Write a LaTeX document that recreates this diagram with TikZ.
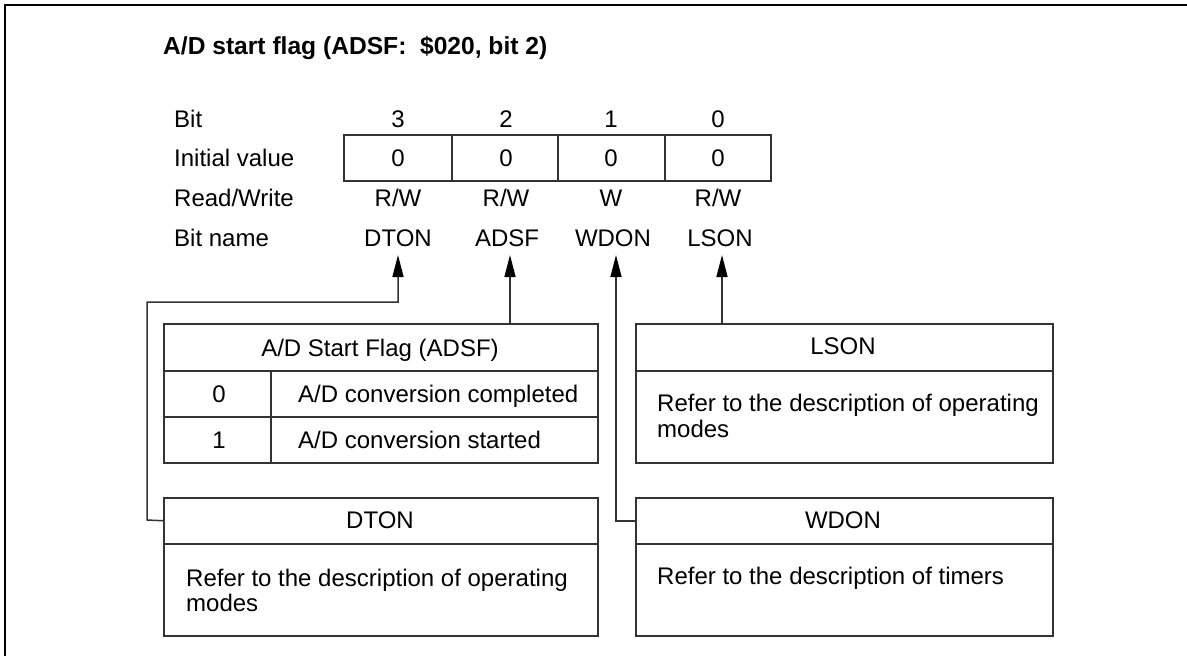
\documentclass[tikz,border=0pt]{standalone}
\usepackage{fontspec}
\setmainfont{Liberation Sans}
\usetikzlibrary{arrows.meta}
\begin{document}
\begin{tikzpicture}[x=1pt,y=-1pt,
  every node/.style={font=\fontsize{24}{25.5}\selectfont, inner sep=0pt},
  ln/.style={draw=black!80, line width=1.5pt},
  cell/.style={ln, rectangle, anchor=north west},
  lbl/.style={anchor=base west},
  ctr/.style={anchor=base},
  arr/.style={draw=black!80, line width=1.5pt, -{Triangle[length=22pt,width=11pt,fill=black,color=black]}}
]
\useasboundingbox (0,0) rectangle (1187,656);
\draw[line width=2pt] (5,656) -- (5,5) -- (1187,5);

% title
\node[lbl, font=\fontsize{24.6}{25.5}\selectfont\bfseries] (title) at (163,54) {A/D start flag (ADSF:\ \ \$020, bit 2)};

% row labels
\node[lbl] (lbit)  at (174,127) {Bit};
\node[lbl] (linit) at (174,166) {Initial value};
\node[lbl] (lrw)   at (174,206) {Read/Write};
\node[lbl] (lname) at (174,246) {Bit name};

% register cells
\node[cell, minimum width=108pt, minimum height=46pt] (c3) at (343,134) {};
\node[cell, minimum width=106pt, minimum height=46pt] (c2) at (451,134) {};
\node[cell, minimum width=107pt, minimum height=46pt] (c1) at (557,134) {};
\node[cell, minimum width=106pt, minimum height=46pt] (c0) at (664,134) {};

\node[ctr] (b3) at (398,127) {3};
\node[ctr] (b2) at (506,127) {2};
\node[ctr] (b1) at (611,127) {1};
\node[ctr] (b0) at (718,127) {0};

\node[ctr] (v3) at (398,166) {0};
\node[ctr] (v2) at (506,166) {0};
\node[ctr] (v1) at (611,166) {0};
\node[ctr] (v0) at (718,166) {0};

\node[ctr] (rw3) at (398,206) {R/W};
\node[ctr] (rw2) at (506,206) {R/W};
\node[ctr] (rw1) at (611,206) {W};
\node[ctr] (rw0) at (718,206) {R/W};

\node[ctr] (n3) at (398,246) {DTON};
\node[ctr] (n2) at (507,246) {ADSF};
\node[ctr] (n1) at (613,246) {WDON};
\node[ctr] (n0) at (720,246) {LSON};

\coordinate (tD) at (398,255);
\coordinate (tA) at (510,255);
\coordinate (tW) at (616,255);
\coordinate (tL) at (722,255);

% ADSF table
\node[cell, minimum width=434pt, minimum height=47pt] (adsfh) at (163,323) {};
\node (adsft) at (380,350) {A/D Start Flag (ADSF)};
\node[cell, minimum width=107pt, minimum height=46pt] (a0k) at (163,370) {};
\node[cell, minimum width=327pt, minimum height=46pt] (a0v) at (270,370) {};
\node[cell, minimum width=107pt, minimum height=46pt] (a1k) at (163,416) {};
\node[cell, minimum width=327pt, minimum height=46pt] (a1v) at (270,416) {};
\node[ctr] (a0kt) at (219,402) {0};
\node[lbl] (a0vt) at (298,402) {A/D conversion completed};
\node[ctr] (a1kt) at (219,448) {1};
\node[lbl] (a1vt) at (298,448) {A/D conversion started};

% LSON box
\node[cell, minimum width=417pt, minimum height=47pt] (lsonh) at (635,323) {};
\node (lsont) at (843,346) {LSON};
\node[cell, minimum width=417pt, minimum height=92pt] (lsonb) at (635,370) {};
\node[lbl] (lsonl1) at (657,411) {Refer to the description of operating};
\node[lbl] (lsonl2) at (657,437) {modes};

% DTON box
\node[cell, minimum width=434pt, minimum height=46pt] (dtonh) at (163,497) {};
\node (dtont) at (380,520) {DTON};
\node[cell, minimum width=434pt, minimum height=92pt] (dtonb) at (163,543) {};
\node[lbl] (dtonl1) at (186,586) {Refer to the description of operating};
\node[lbl] (dtonl2) at (186,611) {modes};

% WDON box
\node[cell, minimum width=417pt, minimum height=46pt] (wdonh) at (635,497) {};
\node (wdont) at (843,520) {WDON};
\node[cell, minimum width=417pt, minimum height=92pt] (wdonb) at (635,543) {};
\node[lbl] (wdonl1) at (657,584) {Refer to the description of timers};

% connectors
\draw[arr] (dtonh.west) -- (147,520) -- (147,302) -- (398,302) -- (tD);
\draw[arr] (adsfh.north -| tA) -- (tA);
\draw[arr] (wdonh.west) -- (tW |- wdonh.west) -- (tW);
\draw[arr] (lsonh.north -| tL) -- (tL);
\end{tikzpicture}
\end{document}
